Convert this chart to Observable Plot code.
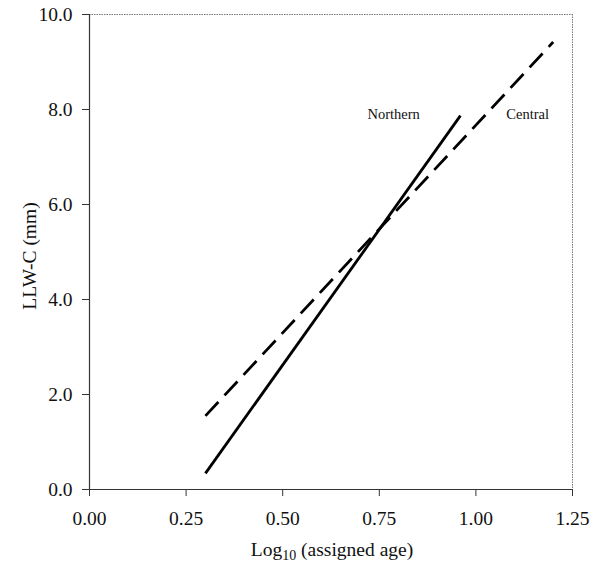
<!DOCTYPE html>
<html>
<head>
<meta charset="utf-8">
<script src="https://cdn.jsdelivr.net/npm/d3@7"></script>
<script src="https://cdn.jsdelivr.net/npm/@observablehq/plot@0.6"></script>
<style>
  body { margin: 0; background: #fff; }
  #chart svg { font-family: "Liberation Serif", "Times New Roman", serif; }
</style>
</head>
<body>
<div id="chart"></div>
<script>
// Regression lines (endpoints)
const northernX = [0.30, 0.96];
const northernY = [0.34, 7.87];
const centralX = [0.30, 1.20];
const centralY = [1.55, 9.42];

const seriesLabels = ["Northern", "Central"];
const labelX = [0.787, 1.134];
const labelY = [7.9, 7.9];

const xTicks = [0, 0.25, 0.5, 0.75, 1.0, 1.25];
const yTicks = [0, 2, 4, 6, 8, 10];

const northern = northernX.map((x, i) => ({x, y: northernY[i]}));
const central = centralX.map((x, i) => ({x, y: centralY[i]}));
const labels = seriesLabels.map((t, i) => ({t, x: labelX[i], y: labelY[i]}));

const plot = Plot.plot({
  width: 591,
  height: 568,
  marginLeft: 89,
  marginRight: 19,
  marginTop: 14,
  marginBottom: 79,
  style: {fontFamily: "'Liberation Serif', 'Times New Roman', serif", fontSize: "19.5px", background: "#fff", color: "#111"},
  x: {domain: [0, 1.25], label: null},
  y: {domain: [0, 10], label: null},
  marks: [
    Plot.ruleY([10], {stroke: "#777", strokeWidth: 1, strokeDasharray: "1.5,1"}),
    Plot.ruleX([1.25], {stroke: "#777", strokeWidth: 1, strokeDasharray: "1.5,1"}),
    Plot.axisX({ticks: xTicks, tickFormat: d3.format(".2f"), tickSize: 7, tickPadding: 15, fontSize: 19.5, stroke: "#333", label: null}),
    Plot.axisY({ticks: yTicks, tickFormat: d3.format(".1f"), tickSize: 7, tickPadding: 10, fontSize: 19.5, stroke: "#333", label: null}),
    Plot.ruleY([0], {stroke: "#333", strokeWidth: 1.2}),
    Plot.ruleX([0], {stroke: "#333", strokeWidth: 1.2}),
    Plot.line(northern, {x: "x", y: "y", stroke: "#000", strokeWidth: 2.8, strokeLinecap: "butt"}),
    Plot.line(central, {x: "x", y: "y", stroke: "#000", strokeWidth: 2.8, strokeDasharray: "19,9", strokeLinecap: "butt"}),
    Plot.text(labels, {x: "x", y: "y", text: "t", fontSize: 14.5, fill: "#111"})
  ]
});

const svg = d3.select(plot);
// Y axis label
svg.append("text")
  .attr("transform", "translate(36,256) rotate(-90)")
  .attr("text-anchor", "middle")
  .attr("font-size", 19.5)
  .attr("fill", "#111")
  .text("LLW-C (mm)");
// X axis label with subscript
const xl = svg.append("text")
  .attr("x", 332)
  .attr("y", 556)
  .attr("text-anchor", "middle")
  .attr("font-size", 19.5)
  .attr("fill", "#111");
xl.append("tspan").text("Log");
xl.append("tspan").attr("font-size", 14).attr("dy", 4).text("10");
xl.append("tspan").attr("dy", -4).text(" (assigned age)");

document.getElementById("chart").appendChild(plot);
</script>
</body>
</html>
